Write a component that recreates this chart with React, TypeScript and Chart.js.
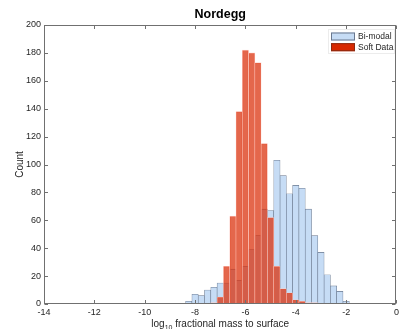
import React, { useEffect, useRef } from 'react';
import { Chart, registerables } from 'chart.js';

Chart.register(...registerables);

const binCenters = [
  -8.25, -8.0, -7.75, -7.5, -7.25, -7.0, -6.75, -6.5, -6.25, -6.0, -5.75, -5.5, -5.25,
  -5.0, -4.75, -4.5, -4.25, -4.0, -3.75, -3.5, -3.25, -3.0, -2.75, -2.5, -2.25, -2.0,
];
const biModalCounts = [
  2, 7, 6, 10, 12, 15, 15, 25, 17, 27, 39, 49, 68, 67, 103, 92, 79, 85, 83, 68, 49, 37, 21, 13, 9, 2,
];
const softDataCounts = [
  0, 0, 0, 0, 1, 5, 27, 63, 138, 182, 180, 173, 115, 62, 27, 11, 8, 3, 2, 1, 1, 0, 0, 0, 0, 0,
];
const xTicks = [-14, -12, -10, -8, -6, -4, -2, 0];
const yTicks = [0, 20, 40, 60, 80, 100, 120, 140, 160, 180, 200];
const seriesNames = ['Bi-modal', 'Soft Data'];
const chartTitle = 'Nordegg';
const yTitle = 'Count';
const xTitleParts = ['log', '10', ' fractional mass to surface'];

const FONT = '"Liberation Sans", Arial, Helvetica, sans-serif';
const TEXT = '#262626';
const AXIS = '#707070';
const BLUE_FILL = '#c6dcf5';
const BLUE_EDGE = '#6a788e';
const RED_FILL = 'rgba(217, 38, 0, 0.7)';
const RED_EDGE = 'rgba(255, 205, 195, 0.85)';

const toPoints = (vals: number[]) =>
  binCenters
    .map((x, i) => ({ x, y: vals[i] }))
    .filter((p) => p.y > 0);

const matlabPlugin = {
  id: 'matlabDecor',
  afterDatasetsDraw(chart: any) {
    const { ctx, chartArea: a, scales } = chart;
    const L = Math.round(a.left) + 0.5;
    const R = Math.round(a.right) - 0.5;
    const T = Math.round(a.top) + 0.5;
    const B = Math.round(a.bottom) - 0.5;
    ctx.save();
    ctx.strokeStyle = AXIS;
    ctx.lineWidth = 1;
    ctx.strokeRect(L, T, R - L, B - T);
    const tl = 3.5;
    ctx.beginPath();
    for (const v of xTicks) {
      const px = Math.round(scales.x.getPixelForValue(v)) + 0.5;
      ctx.moveTo(px, B);
      ctx.lineTo(px, B - tl);
      ctx.moveTo(px, T);
      ctx.lineTo(px, T + tl);
    }
    for (const v of yTicks) {
      const py = Math.round(scales.y.getPixelForValue(v)) + 0.5;
      ctx.moveTo(L, py);
      ctx.lineTo(L + tl, py);
      ctx.moveTo(R, py);
      ctx.lineTo(R - tl, py);
    }
    ctx.stroke();

    // legend
    const lx = 328, ly = 29, lw = 67, lh = 25;
    ctx.fillStyle = '#ffffff';
    ctx.fillRect(lx, ly, lw, lh);
    ctx.strokeStyle = '#ececec';
    ctx.strokeRect(lx + 0.5, ly + 0.5, lw - 1, lh - 1);
    const sw = [
      { fill: BLUE_FILL, edge: BLUE_EDGE },
      { fill: '#d82800', edge: '#8a2a10' },
    ];
    ctx.font = `8.5px ${FONT}`;
    ctx.textBaseline = 'middle';
    ctx.textAlign = 'left';
    seriesNames.forEach((name, i) => {
      const sy = 32.5 + i * 10.7;
      ctx.fillStyle = sw[i].fill;
      ctx.fillRect(331, sy, 24, 8);
      ctx.strokeStyle = sw[i].edge;
      ctx.strokeRect(331.5, sy + 0.5, 23, 7);
      ctx.fillStyle = TEXT;
      ctx.fillText(name, 358, sy + 4);
    });

    // title
    const cx = (a.left + a.right) / 2;
    ctx.fillStyle = '#000000';
    ctx.font = `bold 12.5px ${FONT}`;
    ctx.textAlign = 'center';
    ctx.textBaseline = 'middle';
    ctx.fillText(chartTitle, cx, 14.5);

    // y title
    ctx.save();
    ctx.translate(20, (a.top + a.bottom) / 2);
    ctx.rotate(-Math.PI / 2);
    ctx.font = `10px ${FONT}`;
    ctx.fillStyle = TEXT;
    ctx.textAlign = 'center';
    ctx.textBaseline = 'middle';
    ctx.fillText(yTitle, 0, 0);
    ctx.restore();

    // x title with subscript
    const bigFont = `10px ${FONT}`;
    const smallFont = `7px ${FONT}`;
    ctx.font = bigFont;
    const w0 = ctx.measureText(xTitleParts[0]).width;
    const w2 = ctx.measureText(xTitleParts[2]).width;
    ctx.font = smallFont;
    const w1 = ctx.measureText(xTitleParts[1]).width;
    let x = cx - (w0 + w1 + w2) / 2;
    const by = 327;
    ctx.textAlign = 'left';
    ctx.textBaseline = 'alphabetic';
    ctx.fillStyle = TEXT;
    ctx.font = bigFont;
    ctx.fillText(xTitleParts[0], x, by);
    x += w0;
    ctx.font = smallFont;
    ctx.fillText(xTitleParts[1], x, by + 3);
    x += w1;
    ctx.font = bigFont;
    ctx.fillText(xTitleParts[2], x, by);
    ctx.restore();
  },
};

export default function App() {
  const ref = useRef<HTMLCanvasElement>(null);
  useEffect(() => {
    if (!ref.current) return;
    const chart = new Chart(ref.current, {
      type: 'bar',
      data: {
        datasets: [
          {
            label: seriesNames[0],
            data: toPoints(biModalCounts) as any,
            backgroundColor: BLUE_FILL,
            borderColor: BLUE_EDGE,
            borderWidth: 0.6,
            borderSkipped: 'bottom',
            order: 2,
          },
          {
            label: seriesNames[1],
            data: toPoints(softDataCounts) as any,
            backgroundColor: RED_FILL,
            borderColor: RED_EDGE,
            borderWidth: 0.6,
            borderSkipped: 'bottom',
            order: 1,
          },
        ],
      },
      options: {
        responsive: false,
        animation: false,
        events: [],
        grouped: false,
        barPercentage: 1,
        categoryPercentage: 1,
        layout: { padding: { top: 25, right: 4, left: 0, bottom: 0 } },
        plugins: {
          legend: { display: false },
          title: { display: false },
          tooltip: { enabled: false },
        },
        scales: {
          x: {
            type: 'linear',
            min: -14,
            max: 0,
            offset: false,
            grid: { display: false, drawTicks: false, offset: false },
            border: { display: false },
            afterFit: (s: any) => {
              s.height = 25;
            },
            afterBuildTicks: (s: any) => {
              s.ticks = xTicks.map((v) => ({ value: v }));
            },
            ticks: {
              font: { family: FONT, size: 9 },
              color: TEXT,
              padding: 3,
              maxRotation: 0,
              autoSkip: false,
            },
          },
          y: {
            type: 'linear',
            min: 0,
            max: 200,
            grid: { display: false, drawTicks: false },
            border: { display: false },
            afterFit: (s: any) => {
              s.width = 44;
            },
            afterBuildTicks: (s: any) => {
              s.ticks = yTicks.map((v) => ({ value: v }));
            },
            ticks: {
              font: { family: FONT, size: 9 },
              color: TEXT,
              padding: 3,
              autoSkip: false,
            },
          },
        },
      } as any,
      plugins: [matlabPlugin],
    });
    return () => chart.destroy();
  }, []);
  return (
    <div style={{ position: 'absolute', left: 0, top: 0, width: 402, height: 329, background: '#fff' }}>
      <canvas ref={ref} width={402} height={329} style={{ display: 'block' }} />
    </div>
  );
}
